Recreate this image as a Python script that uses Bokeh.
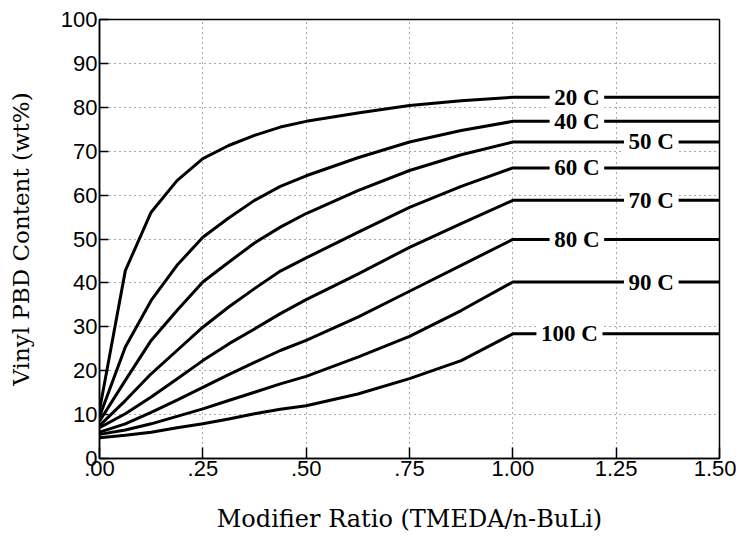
from bokeh.plotting import figure
from bokeh.models import ColumnDataSource, LabelSet, FixedTicker, Range1d
from bokeh.embed import file_html
from bokeh.resources import INLINE

# ---- data ----
ratio = [0, 0.0625, 0.125, 0.1875, 0.25, 0.3125, 0.375, 0.4375, 0.5, 0.625, 0.75, 0.875, 1.0, 1.5]
vinyl_20 = [11.0, 42.8, 56.1, 63.3, 68.3, 71.3, 73.6, 75.5, 76.8, 78.7, 80.4, 81.5, 82.3, 82.3]
vinyl_40 = [9.5, 25.4, 36.0, 44.0, 50.4, 54.8, 58.8, 62.0, 64.4, 68.5, 72.1, 74.7, 76.8, 76.8]
vinyl_50 = [8.5, 17.8, 26.9, 33.7, 40.2, 44.7, 49.1, 52.7, 55.8, 61.0, 65.6, 69.2, 72.1, 72.1]
vinyl_60 = [7.5, 13.2, 19.3, 24.6, 29.9, 34.5, 38.7, 42.7, 45.7, 51.5, 57.2, 62.0, 66.2, 66.2]
vinyl_70 = [7.0, 10.2, 14.0, 18.1, 22.3, 26.1, 29.5, 33.0, 36.2, 42.0, 48.1, 53.5, 58.8, 58.8]
vinyl_80 = [6.0, 7.9, 10.5, 13.3, 16.2, 19.1, 21.9, 24.6, 26.9, 32.2, 38.1, 44.0, 49.9, 49.9]
vinyl_90 = [5.5, 6.5, 7.9, 9.6, 11.3, 13.2, 15.1, 17.0, 18.7, 23.1, 27.8, 33.7, 40.2, 40.2]
vinyl_100 = [4.7, 5.3, 6.0, 7.0, 7.9, 9.0, 10.2, 11.2, 12.0, 14.7, 18.2, 22.3, 28.4, 28.4]

series = [vinyl_20, vinyl_40, vinyl_50, vinyl_60, vinyl_70, vinyl_80, vinyl_90, vinyl_100]
curve_labels = ["20 C", "40 C", "50 C", "60 C", "70 C", "80 C", "90 C", "100 C"]
label_x = [1.155, 1.155, 1.335, 1.155, 1.335, 1.155, 1.335, 1.137]

x_ticks = [0, 0.25, 0.5, 0.75, 1.0, 1.25, 1.5]
x_tick_labels = [".00", ".25", ".50", ".75", "1.00", "1.25", "1.50"]
y_ticks = [0, 10, 20, 30, 40, 50, 60, 70, 80, 90, 100]

p = figure(width=736, height=539, output_backend="svg", toolbar_location=None,
           x_range=Range1d(0, 1.5), y_range=Range1d(0, 100),
           min_border_left=99, min_border_right=17, min_border_top=19, min_border_bottom=81)
p.background_fill_color = "white"
p.border_fill_color = "white"
p.outline_line_color = "black"
p.outline_line_width = 1.5

for ys in series:
    p.line(ratio, ys, line_color="black", line_width=3)

lsrc = ColumnDataSource(dict(x=label_x, y=[s[-1] for s in series],
                             t=["\u2009" + t + "\u2009" for t in curve_labels]))
p.add_layout(LabelSet(x="x", y="y", text="t", source=lsrc,
                      text_font="DejaVu Serif", text_font_style="bold",
                      text_font_size="23px", text_align="center", text_baseline="middle",
                      text_color="black", background_fill_color="white"))

# axes
p.xaxis.ticker = FixedTicker(ticks=x_ticks)
p.xaxis.major_label_overrides = {t: l for t, l in zip(x_ticks, x_tick_labels)}
p.yaxis.ticker = FixedTicker(ticks=y_ticks)
for ax in (p.xaxis, p.yaxis):
    ax.axis_line_color = "black"
    ax.axis_line_width = 1.5
    ax.major_tick_line_color = "black"
    ax.major_tick_line_width = 1.5
    ax.major_tick_out = 0
    ax.minor_tick_line_color = None
    ax.major_label_text_font = "Liberation Sans"
    ax.major_label_text_font_size = "22px"
    ax.major_label_text_color = "black"
    ax.axis_label_text_font = "DejaVu Serif"
    ax.axis_label_text_font_style = "normal"
    ax.axis_label_text_color = "black"
p.xaxis.axis_label_text_font_size = "24px"
p.yaxis.axis_label_text_font_size = "23px"
p.xaxis.major_tick_in = 11
p.yaxis.major_tick_in = 9
p.xaxis.major_label_standoff = 2
p.yaxis.major_label_standoff = 2
p.xaxis.axis_label = "Modifier Ratio (TMEDA/n-BuLi)"
p.yaxis.axis_label = "Vinyl PBD Content (wt%)"
p.xaxis.axis_label_standoff = 26
p.yaxis.axis_label_standoff = 24

for g in (p.xgrid, p.ygrid):
    g.grid_line_color = "#555555"
    g.grid_line_dash = "1 4"
    g.grid_line_width = 1

open("out.html", "w").write(file_html(p, INLINE))
